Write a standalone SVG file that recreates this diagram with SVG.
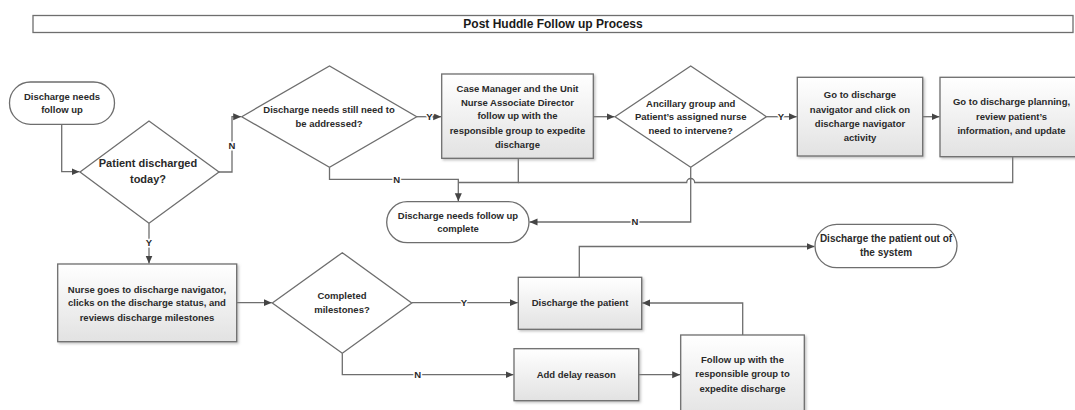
<svg xmlns="http://www.w3.org/2000/svg" width="1075" height="410" viewBox="0 0 1075 410">
<style>
  .box { fill: url(#boxGrad); stroke: #6e6e6e; stroke-width: 1.3; filter: url(#shadow); }
  .dia { fill: #ffffff; stroke: #6e6e6e; stroke-width: 1.3; }
  .term { fill: #ffffff; stroke: #6e6e6e; stroke-width: 1.3; }
  .t { font-family: "Liberation Sans", Arial, sans-serif; font-size: 9.5px; font-weight: bold; fill: #2a2a2a; text-anchor: middle; }
  .big { font-size: 11px; }
  .title { font-family: "Liberation Sans", Arial, sans-serif; font-size: 12px; font-weight: bold; fill: #1a1a1a; text-anchor: middle; }
  .conn { fill: none; stroke: #6e6e6e; stroke-width: 1.3; }
  .arr { marker-end: url(#arrow); }
  .lbl { font-family: "Liberation Sans", Arial, sans-serif; font-size: 9.5px; font-weight: bold; fill: #2a2a2a; text-anchor: middle; stroke: #ffffff; stroke-width: 3px; paint-order: stroke; }
</style>
<defs>
  <linearGradient id="boxGrad" x1="0" y1="0" x2="0" y2="1">
    <stop offset="0" stop-color="#ffffff"/>
    <stop offset="1" stop-color="#e2e2e2"/>
  </linearGradient>
  <filter id="shadow" x="-10%" y="-10%" width="125%" height="130%">
    <feDropShadow dx="1.5" dy="1.5" stdDeviation="1" flood-color="#888888" flood-opacity="0.5"/>
  </filter>
  <marker id="arrow" markerUnits="userSpaceOnUse" markerWidth="9" markerHeight="8" refX="8" refY="3.5" orient="auto">
    <path d="M0,0 L8,3.5 L0,7 z" fill="#454545"/>
  </marker>
</defs>
<rect width="1075" height="410" fill="#ffffff"/>

<g id="title">
  <rect x="33" y="15.5" width="1040" height="17" fill="#ffffff" stroke="#6e6e6e" stroke-width="1.3"/>
  <text class="title" x="553" y="28.3">Post Huddle Follow up Process</text>
</g>

<g id="connectors">
  <path class="conn arr" d="M61.7,124.3 V171.7 H79.5"/>
  <path class="conn arr" d="M219,172 H232 V116.7 H241.2"/>
  <path class="conn arr" d="M149,223.3 V263.5"/>
  <path class="conn arr" d="M416.7,116.7 H441.2"/>
  <path class="conn arr" d="M329.5,167.3 V179.3 H458.3 V201.2"/>
  <path class="conn" d="M518.3,158.3 V182.5 H458.3"/>
  <path class="conn arr" d="M593.3,116.7 H614.5"/>
  <path class="conn arr" d="M766.4,116.7 H796.8"/>
  <path class="conn arr" d="M922.7,116.7 H939.5"/>
  <path class="conn" d="M1012.7,156.7 V182.5 H694.7 A4,4 0 0 0 686.7,182.5 H518.3"/>
  <path class="conn arr" d="M690.7,167.3 V222 H529.5"/>
  <path class="conn arr" d="M236.7,302.7 H271.8"/>
  <path class="conn arr" d="M411.7,302.7 H517.8"/>
  <path class="conn arr" d="M342.3,353.3 V374.7 H513.5"/>
  <path class="conn arr" d="M638.7,374.7 H680.2"/>
  <path class="conn arr" d="M742.7,335 V303 H642.2"/>
  <path class="conn arr" d="M579.3,277.3 V246.5 H814.5"/>
  <text class="lbl" x="232" y="149.4">N</text>
  <text class="lbl" x="149" y="246.1">Y</text>
  <text class="lbl" x="429.3" y="120.1">Y</text>
  <text class="lbl" x="396.7" y="182.7">N</text>
  <text class="lbl" x="781" y="120.1">Y</text>
  <text class="lbl" x="635" y="225.4">N</text>
  <text class="lbl" x="464" y="306.1">Y</text>
  <text class="lbl" x="417.7" y="378.1">N</text>
</g>

<g id="start">
  <rect class="term" x="9.5" y="82" width="105" height="42.3" rx="21" ry="21"/>
  <text class="t" x="62" y="100.1">Discharge needs</text>
  <text class="t" x="62" y="113.4">follow up</text>
</g>

<g id="patient-discharged">
  <polygon class="dia" points="80,172 149,121 219,172 149,223.3"/>
  <text class="t big" x="148" y="167.2">Patient discharged</text>
  <text class="t big" x="148" y="183.2">today?</text>
</g>

<g id="needs-addressed">
  <polygon class="dia" points="241.7,116.7 329.5,66 416.7,116.7 329.5,167.3"/>
  <text class="t" x="329" y="113.4">Discharge needs still need to</text>
  <text class="t" x="329" y="126.7">be addressed?</text>
</g>

<g id="case-manager">
  <rect class="box" x="441.7" y="74" width="151.6" height="84.3"/>
  <text class="t" x="517.5" y="91.7">Case Manager and the Unit</text>
  <text class="t" x="517.5" y="105.7">Nurse Associate Director</text>
  <text class="t" x="517.5" y="119.4">follow up with the</text>
  <text class="t" x="517.5" y="134.1">responsible group to expedite</text>
  <text class="t" x="517.5" y="148.4">discharge</text>
</g>

<g id="ancillary">
  <polygon class="dia" points="615,116.7 690.7,66 766.4,116.7 690.7,167.3"/>
  <text class="t" x="690.7" y="106.7">Ancillary group and</text>
  <text class="t" x="690.7" y="120.1">Patient’s assigned nurse</text>
  <text class="t" x="690.7" y="134.1">need to intervene?</text>
</g>

<g id="go-navigator">
  <rect class="box" x="797.3" y="77.3" width="125.4" height="78.7"/>
  <text class="t" x="860" y="98.4">Go to discharge</text>
  <text class="t" x="860" y="112.7">navigator and click on</text>
  <text class="t" x="860" y="126.7">discharge navigator</text>
  <text class="t" x="860" y="140.7">activity</text>
</g>

<g id="go-planning">
  <rect class="box" x="940" y="77.3" width="142" height="79.4"/>
  <text class="t" x="1011.5" y="105.1">Go to discharge planning,</text>
  <text class="t" x="1011.5" y="119.7">review patient’s</text>
  <text class="t" x="1011.5" y="134.1">information, and update</text>
</g>

<g id="followup-complete">
  <rect class="term" x="386.7" y="201.7" width="142.3" height="41" rx="20.5" ry="20.5"/>
  <text class="t" x="458" y="218.9">Discharge needs follow up</text>
  <text class="t" x="458" y="232.4">complete</text>
</g>

<g id="nurse-navigator">
  <rect class="box" x="57.7" y="264" width="179" height="77.7"/>
  <text class="t" x="147" y="292.6">Nurse goes to discharge navigator,</text>
  <text class="t" x="147" y="306.3">clicks on the discharge status, and</text>
  <text class="t" x="147" y="320.6">reviews discharge milestones</text>
</g>

<g id="completed-milestones">
  <polygon class="dia" points="272.3,303 342.3,252.7 411.7,303 342.3,353.3"/>
  <text class="t" x="342" y="299.4">Completed</text>
  <text class="t" x="342" y="313.4">milestones?</text>
</g>

<g id="discharge-patient">
  <rect class="box" x="518.3" y="277.3" width="123.4" height="52"/>
  <text class="t" x="580" y="306.1">Discharge the patient</text>
</g>

<g id="add-delay">
  <rect class="box" x="514" y="348.7" width="124.7" height="52"/>
  <text class="t" x="576.3" y="377.9">Add delay reason</text>
</g>

<g id="follow-up-group">
  <rect class="box" x="680.7" y="335" width="123.6" height="85"/>
  <text class="t" x="742.5" y="363.4">Follow up with the</text>
  <text class="t" x="742.5" y="377.4">responsible group to</text>
  <text class="t" x="742.5" y="391.7">expedite discharge</text>
</g>

<g id="discharge-out">
  <rect class="term" x="815" y="224.3" width="142" height="43.4" rx="21.7" ry="21.7"/>
  <text class="t" x="886" y="241.8" style="font-size:10px">Discharge the patient out of</text>
  <text class="t" x="886" y="256.2" style="font-size:10px">the system</text>
</g>
</svg>
